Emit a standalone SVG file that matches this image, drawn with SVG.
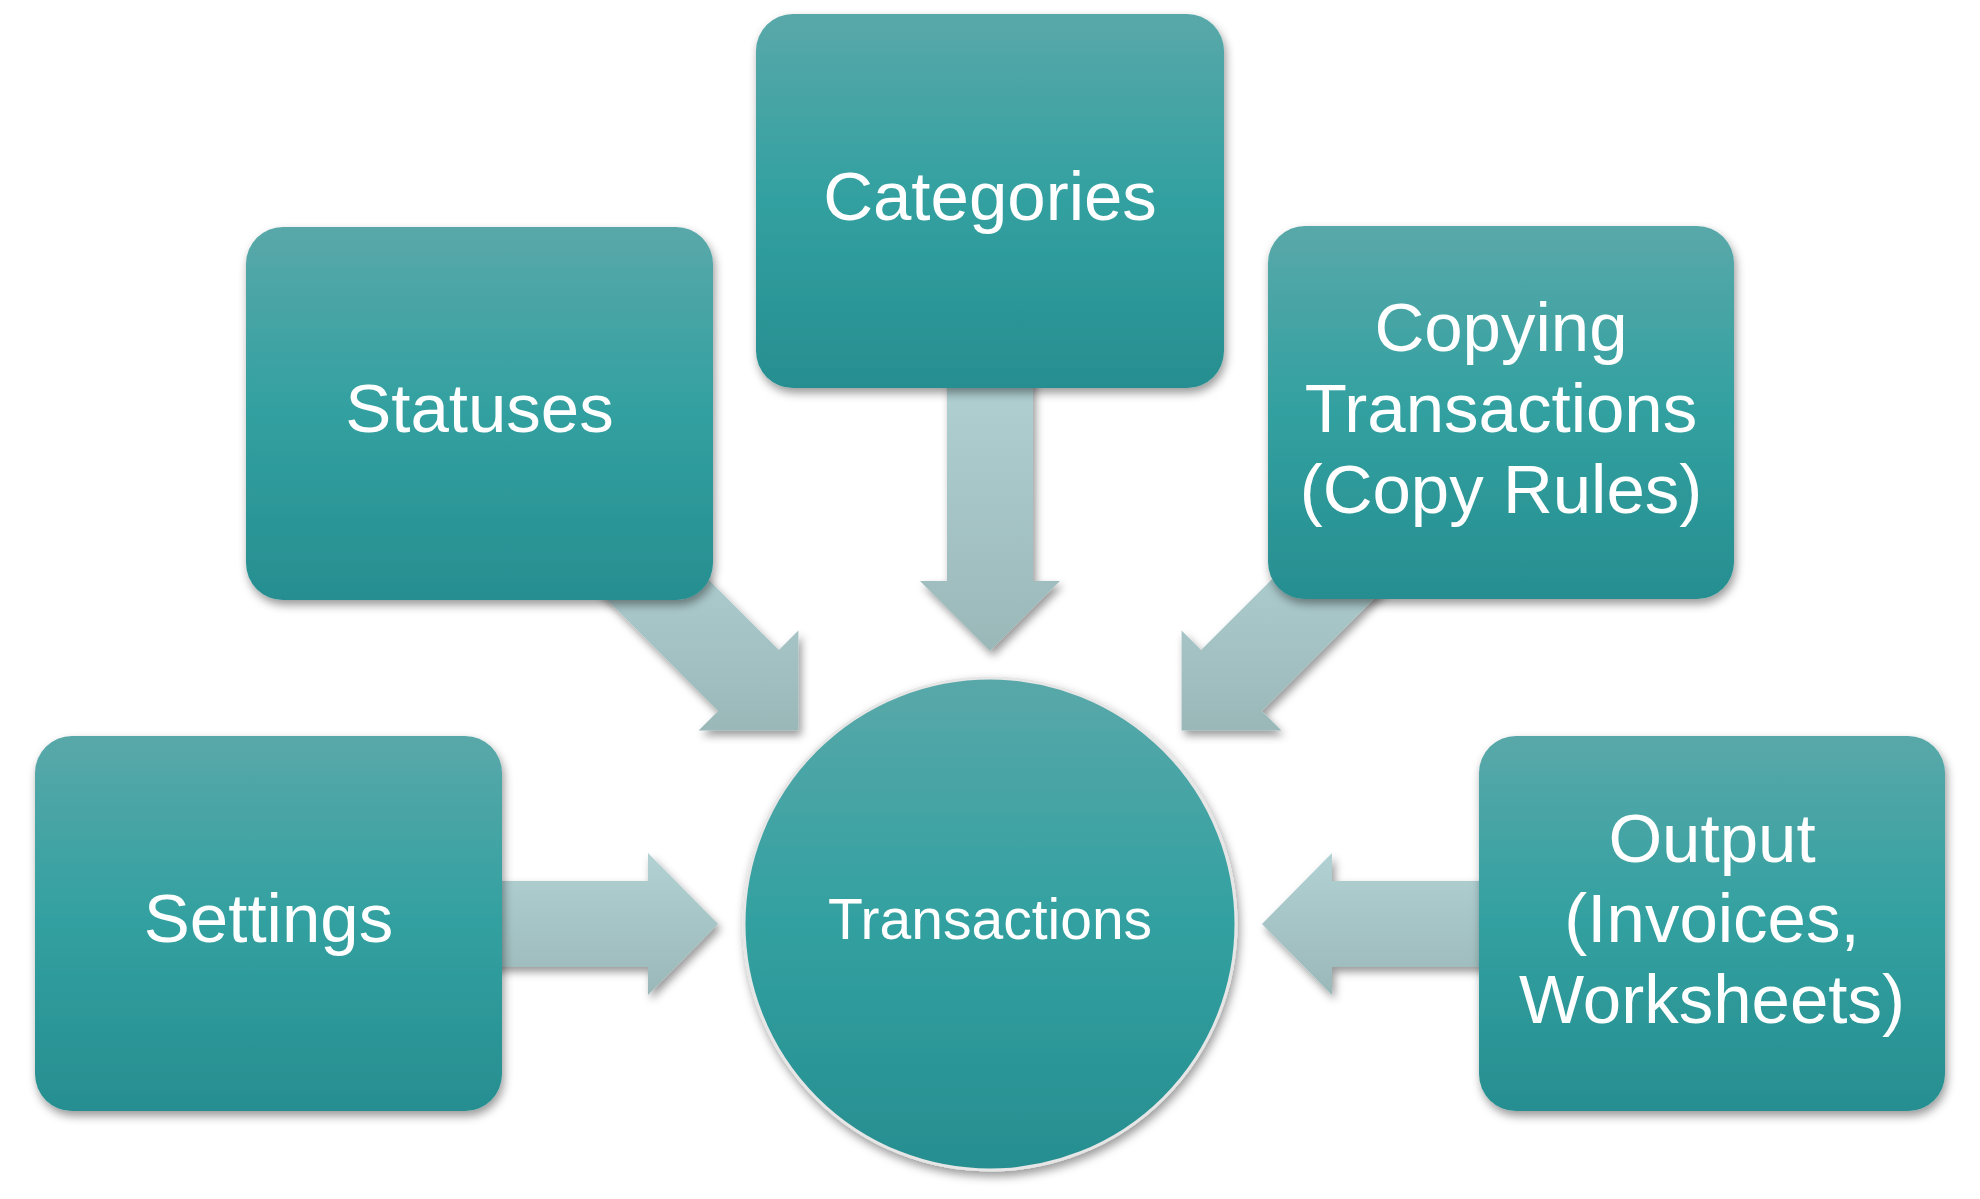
<svg xmlns="http://www.w3.org/2000/svg" width="1980" height="1199" viewBox="0 0 1980 1199">
<style>
.box{fill:url(#teal);filter:url(#sh);}
.arr{fill:url(#grey);filter:url(#ash);}
.lbl{font-family:"Liberation Sans",Arial,sans-serif;font-size:69px;fill:#ffffff;text-anchor:middle;}
.clbl{font-family:"Liberation Sans",Arial,sans-serif;font-size:57px;fill:#ffffff;text-anchor:middle;}
</style>
<defs>
<linearGradient id="teal" x1="0" y1="0" x2="0" y2="1">
<stop offset="0" stop-color="#59a8a9"/>
<stop offset="0.5" stop-color="#32a0a0"/>
<stop offset="1" stop-color="#278e90"/>
</linearGradient>
<linearGradient id="grey" x1="0" y1="0" x2="0" y2="1">
<stop offset="0" stop-color="#b1d1d3"/>
<stop offset="1" stop-color="#9bb8b9"/>
</linearGradient>
<filter id="sh" x="-10%" y="-10%" width="125%" height="125%">
<feDropShadow dx="2" dy="5" stdDeviation="5" flood-color="#000" flood-opacity="0.4"/>
</filter>
<filter id="ash" x="-15%" y="-15%" width="135%" height="135%">
<feDropShadow dx="3" dy="5" stdDeviation="4" flood-color="#000" flood-opacity="0.4"/>
</filter>
</defs>
<rect width="1980" height="1199" fill="#ffffff"/>
<g id="connectors">
<polygon class="arr" points="480,881 648,881 648,853 718,924 648,995 648,967 480,967"/>
<polygon class="arr" points="1500,881 1332,881 1332,853 1262,924 1332,995 1332,967 1500,967"/>
<polygon class="arr" points="947,360 1033,360 1033,581 1060,581 990,651 920,581 947,581"/>
<polygon class="arr" points="651.6,522.8 778.9,650.1 798.4,630.6 798.4,730.4 698.6,730.4 718.1,710.9 590.8,583.6"/>
<polygon class="arr" points="1328.4,522.8 1201.1,650.1 1181.6,630.6 1181.6,730.4 1281.4,730.4 1261.9,710.9 1389.2,583.6"/>
</g>
<g id="node-transactions">
<circle cx="990" cy="924" r="246" fill="url(#teal)" stroke="#e6e6e6" stroke-width="3" filter="url(#sh)"/>
<text class="clbl" x="990" y="939">Transactions</text>
</g>
<g id="node-statuses">
<rect class="box" x="246" y="227" width="467" height="373" rx="37"/>
<text class="lbl" x="479.5" y="432">Statuses</text>
</g>
<g id="node-categories">
<rect class="box" x="756" y="14" width="468" height="374" rx="37"/>
<text class="lbl" x="990" y="220">Categories</text>
</g>
<g id="node-copying">
<rect class="box" x="1268" y="226" width="466" height="373" rx="37"/>
<text class="lbl" x="1501" y="351">Copying</text>
<text class="lbl" x="1501" y="432">Transactions</text>
<text class="lbl" x="1501" y="513">(Copy Rules)</text>
</g>
<g id="node-settings">
<rect class="box" x="35" y="736" width="467" height="375" rx="37"/>
<text class="lbl" x="268.5" y="942">Settings</text>
</g>
<g id="node-output">
<rect class="box" x="1479" y="736" width="466" height="375" rx="37"/>
<text class="lbl" x="1712" y="862">Output</text>
<text class="lbl" x="1712" y="942">(Invoices,</text>
<text class="lbl" x="1712" y="1023">Worksheets)</text>
</g>
</svg>
